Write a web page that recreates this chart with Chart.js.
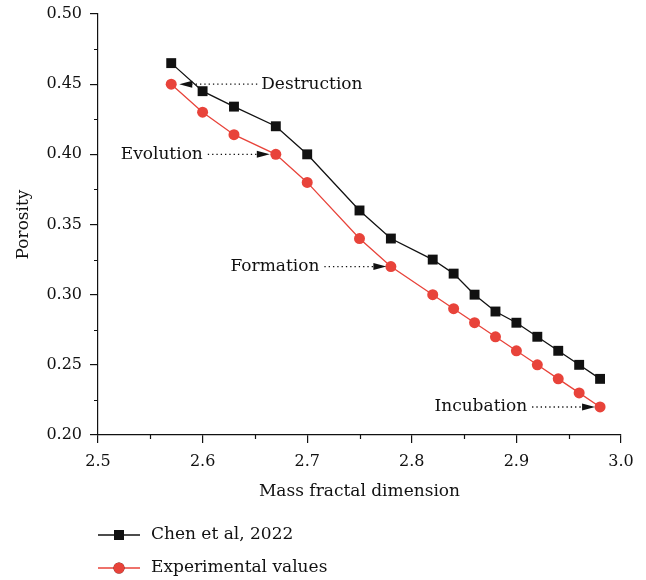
<!DOCTYPE html>
<html>
<head>
<meta charset="utf-8">
<script src="https://cdn.jsdelivr.net/npm/chart.js@4/dist/chart.umd.min.js"></script>
<style>
  html, body { margin: 0; padding: 0; background: #fff; }
  canvas { display: block; }
</style>
</head>
<body>
<canvas id="chart" width="646" height="580"></canvas>
<script>
// mass fractal dimension vs porosity
const dimChen = [2.57, 2.60, 2.63, 2.67, 2.70, 2.75, 2.78, 2.82, 2.84, 2.86, 2.88, 2.90, 2.92, 2.94, 2.96, 2.98];
const porosityChen = [0.465, 0.445, 0.434, 0.420, 0.400, 0.360, 0.340, 0.325, 0.315, 0.300, 0.288, 0.280, 0.270, 0.260, 0.250, 0.240];
const dimExp = [2.57, 2.60, 2.63, 2.67, 2.70, 2.75, 2.78, 2.82, 2.84, 2.86, 2.88, 2.90, 2.92, 2.94, 2.96, 2.98];
const porosityExp = [0.450, 0.430, 0.414, 0.400, 0.380, 0.340, 0.320, 0.300, 0.290, 0.280, 0.270, 0.260, 0.250, 0.240, 0.230, 0.220];
const seriesNames = ['Chen et al, 2022', 'Experimental values'];

// stage labels, each pointing at a point of the experimental curve
const stageNames = ['Destruction', 'Evolution', 'Formation', 'Incubation'];
const stagePointIdx = [0, 3, 6, 15];

const FONT = 'DejaVu Serif';
const BLACK = '#111111';
const RED = '#e8433a';

const toXY = (xs, ys) => xs.map((x, i) => ({ x: x, y: ys[i] }));

// arrow placement per label: which side the text sits on, arrow length, gap to the marker
const stageArrows = [
  { dir: 'left', len: 78, gap: 8 },
  { dir: 'right', len: 62, gap: 6 },
  { dir: 'right', len: 62, gap: 4.5 },
  { dir: 'right', len: 63, gap: 5 }
];

function drawArrow(ctx, x0, x1, y) {
  // dotted shaft from x0 to x1, filled head at x1
  const d = x1 > x0 ? 1 : -1;
  const headLen = 13;
  ctx.save();
  ctx.strokeStyle = BLACK;
  ctx.lineWidth = 1.4;
  ctx.setLineDash([1.3, 3]);
  ctx.beginPath();
  ctx.moveTo(x0, y);
  ctx.lineTo(x1 - d * headLen, y);
  ctx.stroke();
  ctx.setLineDash([]);
  ctx.fillStyle = BLACK;
  ctx.beginPath();
  ctx.moveTo(x1, y);
  ctx.lineTo(x1 - d * headLen, y - 3.5);
  ctx.lineTo(x1 - d * headLen, y + 3.5);
  ctx.closePath();
  ctx.fill();
  ctx.restore();
}

const extras = {
  id: 'extras',
  afterDraw(chart) {
    const ctx = chart.ctx;
    const xs = chart.scales.x, ys = chart.scales.y;

    // minor ticks halfway between the major ones, pointing outwards
    ctx.save();
    ctx.strokeStyle = BLACK;
    ctx.lineWidth = 1.2;
    ctx.beginPath();
    for (let v = 2.55; v < 3.0; v += 0.1) {
      const px = Math.round(xs.getPixelForValue(v)) + 0.5;
      ctx.moveTo(px, ys.bottom);
      ctx.lineTo(px, ys.bottom + 4);
    }
    for (let v = 0.225; v < 0.5; v += 0.05) {
      const py = Math.round(ys.getPixelForValue(v)) + 0.5;
      ctx.moveTo(xs.left, py);
      ctx.lineTo(xs.left - 4, py);
    }
    ctx.stroke();
    ctx.restore();

    // stage labels with dotted arrows
    ctx.save();
    ctx.font = '17px "' + FONT + '"';
    ctx.fillStyle = BLACK;
    ctx.textBaseline = 'middle';
    stageNames.forEach((name, i) => {
      const k = stagePointIdx[i];
      const a = stageArrows[i];
      const px = xs.getPixelForValue(dimExp[k]);
      const py = ys.getPixelForValue(porosityExp[k]);
      if (a.dir === 'left') {
        const tip = px + a.gap, tail = tip + a.len;
        drawArrow(ctx, tail, tip, py);
        ctx.textAlign = 'left';
        ctx.fillText(name, tail + 4, py);
      } else {
        const tip = px - a.gap, tail = tip - a.len;
        drawArrow(ctx, tail, tip, py);
        ctx.textAlign = 'right';
        ctx.fillText(name, tail - 5, py);
      }
    });
    ctx.restore();

    // legend below the axis title: line with marker, then name
    ctx.save();
    ctx.textAlign = 'left';
    ctx.textBaseline = 'middle';
    ctx.font = '17px "' + FONT + '"';
    chart.data.datasets.forEach((ds, i) => {
      const y = 535 + i * 33;
      ctx.strokeStyle = ds.borderColor;
      ctx.lineWidth = 1.3;
      ctx.beginPath();
      ctx.moveTo(98, y);
      ctx.lineTo(140, y);
      ctx.stroke();
      Chart.helpers.drawPoint(ctx, { pointStyle: ds.pointStyle, radius: ds.pointRadius, borderWidth: 0 }, 119, y);
      ctx.fillStyle = ds.pointBackgroundColor;
      ctx.fill();
      ctx.fillStyle = BLACK;
      ctx.fillText(seriesNames[i], 151, y);
    });
    ctx.restore();
  }
};

new Chart(document.getElementById('chart'), {
  type: 'scatter',
  data: {
    datasets: [
      {
        label: seriesNames[0],
        data: toXY(dimChen, porosityChen),
        showLine: true,
        borderColor: BLACK,
        borderWidth: 1.3,
        pointStyle: 'rect',
        pointRadius: 7,
        pointBackgroundColor: BLACK,
        pointBorderColor: BLACK,
        pointBorderWidth: 0
      },
      {
        label: seriesNames[1],
        data: toXY(dimExp, porosityExp),
        showLine: true,
        borderColor: RED,
        borderWidth: 1.3,
        pointStyle: 'circle',
        pointRadius: 5.5,
        pointBackgroundColor: RED,
        pointBorderColor: RED,
        pointBorderWidth: 0
      }
    ]
  },
  options: {
    responsive: false,
    animation: false,
    events: [],
    layout: { padding: { top: 14, right: 25, bottom: 77, left: 0 } },
    plugins: { legend: { display: false }, tooltip: { enabled: false } },
    scales: {
      x: {
        type: 'linear',
        min: 2.5,
        max: 3.0,
        afterFit(s) { s.height = 68; s.paddingLeft = 0; s.paddingRight = 0; },
        border: { display: true, color: BLACK, width: 1.2 },
        grid: { drawOnChartArea: false, drawTicks: true, tickLength: 8, color: BLACK, lineWidth: 1.2 },
        ticks: {
          stepSize: 0.1,
          color: BLACK,
          padding: 9,
          font: { family: FONT, size: 16 },
          callback: v => v.toFixed(1)
        },
        title: {
          display: true,
          text: 'Mass fractal dimension',
          color: BLACK,
          font: { family: FONT, size: 17 },
          padding: { top: 0, bottom: 1 }
        }
      },
      y: {
        type: 'linear',
        min: 0.2,
        max: 0.5,
        afterFit(s) { s.width = 98; s.paddingTop = 0; s.paddingBottom = 0; },
        border: { display: true, color: BLACK, width: 1.2 },
        grid: { drawOnChartArea: false, drawTicks: true, tickLength: 8, color: BLACK, lineWidth: 1.2 },
        ticks: {
          stepSize: 0.05,
          color: BLACK,
          padding: 8,
          font: { family: FONT, size: 16 },
          callback: v => v.toFixed(2)
        },
        title: {
          display: true,
          text: 'Porosity',
          color: BLACK,
          font: { family: FONT, size: 17 },
          padding: { top: 13, bottom: 0 }
        }
      }
    }
  },
  plugins: [extras]
});
</script>
</body>
</html>
